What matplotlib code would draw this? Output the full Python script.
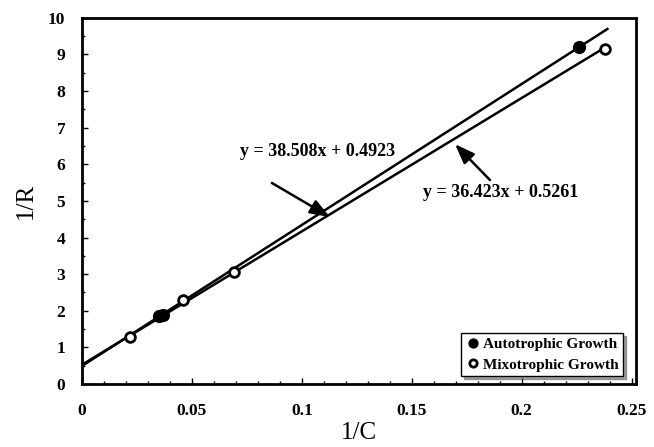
import matplotlib
matplotlib.use("Agg")
import matplotlib.pyplot as plt
import numpy as np
from matplotlib.ticker import MultipleLocator

plt.rcParams['font.family'] = ['Liberation Serif', 'DejaVu Serif']

# data
auto_x = [0.035, 0.037, 0.226]
auto_y = [1.85, 1.88, 9.20]
mixo_x = [0.022, 0.046, 0.069, 0.238]
mixo_y = [1.27, 2.30, 3.05, 9.15]

auto_fit = (38.508, 0.4923)
mixo_fit = (36.423, 0.5261)
auto_line_x = [0.0, 0.239]
mixo_line_x = [0.0, 0.238]

x_ticks = [0, 0.05, 0.1, 0.15, 0.2, 0.25]
x_labels = ["0", "0.05", "0.1", "0.15", "0.2", "0.25"]
y_ticks = list(range(0, 11))

fig = plt.figure(figsize=(6.54, 4.47), dpi=100)
ax = fig.add_axes([0.1254, 0.141, 0.847, 0.819])

# trend lines
xs = np.array(auto_line_x)
ax.plot(xs, auto_fit[0]*xs + auto_fit[1], color='k', lw=1.8, zorder=2)
xs = np.array(mixo_line_x)
ax.plot(xs, mixo_fit[0]*xs + mixo_fit[1], color='k', lw=1.8, zorder=2)

# points
ax.plot(auto_x, auto_y, 'o', color='k', ms=8.5, label='Autotrophic Growth', zorder=3)
ax.plot(mixo_x, mixo_y, 'o', mfc='white', mec='k', mew=2, ms=7,
        label='Mixotrophic Growth', zorder=4)

# equation labels with arrows
arrow = dict(arrowstyle='-|>,head_width=0.45,head_length=1.2',
             color='k', lw=1.8, shrinkA=0, shrinkB=0)
ax.text(0.1073, 6.34, "y = 38.508x + 0.4923", ha='center', va='center',
        fontsize=13, fontweight='bold')
ax.annotate("", xy=(0.1128, 4.56), xytext=(0.0864, 5.49), arrowprops=arrow)
ax.text(0.1905, 5.22, "y = 36.423x + 0.5261", ha='center', va='center',
        fontsize=13, fontweight='bold')
ax.annotate("", xy=(0.1697, 6.55), xytext=(0.1856, 5.57), arrowprops=arrow)

ax.set_xlim(0, 0.252)
ax.set_ylim(0, 10)
ax.set_xticks(x_ticks)
ax.set_xticklabels(x_labels)
ax.set_yticks(y_ticks)
ax.xaxis.set_minor_locator(MultipleLocator(0.01))
ax.yaxis.set_minor_locator(MultipleLocator(0.5))
ax.tick_params(which='both', direction='in', top=False, right=False,
               labelsize=12.5, width=1)
ax.tick_params(axis='x', pad=14)
ax.tick_params(axis='y', pad=12)
ax.tick_params(which='major', length=4)
ax.tick_params(which='minor', length=2)
for lab in ax.get_xticklabels() + ax.get_yticklabels():
    lab.set_fontweight('bold')
for s in ax.spines.values():
    s.set_linewidth(2)

ax.set_xlabel("1/C", fontsize=18, labelpad=2)
ax.set_ylabel("1/R", fontsize=18, labelpad=8)

leg = ax.legend(loc='lower right', bbox_to_anchor=(0.99, 0.0),
                prop={'weight': 'bold', 'size': 11}, fancybox=False, shadow=True,
                edgecolor='k', framealpha=1, handletextpad=0.1, borderpad=0.3,
                handlelength=1.0, markerscale=0.75, labelspacing=0.45,
                borderaxespad=0.5)
leg.get_frame().set_linewidth(1)

fig.savefig("out.png", dpi=100)
